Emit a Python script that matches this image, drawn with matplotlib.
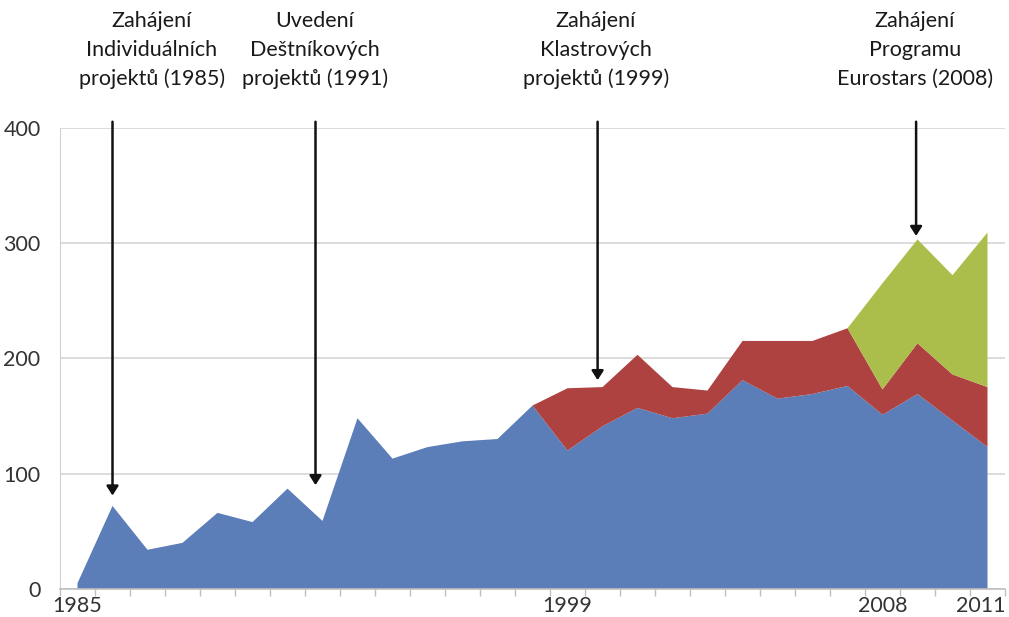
import matplotlib
matplotlib.use("Agg")
import matplotlib.pyplot as plt
import matplotlib.transforms as mtransforms
import numpy as np

years = list(range(1985, 2012))
individual = [5, 72, 34, 40, 66, 58, 87, 59, 148, 113, 123, 128, 130, 159,
              120, 141, 157, 148, 152, 181, 165, 169, 176, 151, 169, 146, 123]
cluster = [0]*13 + [0, 54, 34, 46, 27, 20, 34, 50, 46, 50, 22, 44, 40, 52]
eurostars = [0]*22 + [0, 92, 90, 86, 134]

tick_labels = {1985: "1985", 1999: "1999", 2008: "2008", 2011: "2011"}

ann_texts = ["Zahájení\nIndividuálních\nprojektů (1985)",
             "Uvedení\nDeštníkových\nprojektů (1991)",
             "Zahájení\nKlastrových\nprojektů (1999)",
             "Zahájení\nProgramu\nEurostars (2008)"]
ann_x = [1986.0, 1991.8, 1999.86, 2008.96]
ann_tip = [81, 90, 181, 306]

colors = ["#5B7DB8", "#AE4240", "#ABBE4B"]

plt.rcParams['font.family'] = ['Lato', 'DejaVu Sans']

fig = plt.figure(figsize=(10.09, 6.17), dpi=100)
ax = fig.add_axes([60/1009, 28/617, 945/1009, 461.5/617])

ax.stackplot(years, individual, cluster, eurostars, colors=colors, linewidth=0)

ax.set_xlim(1984.5, 2011.5)
ax.set_ylim(0, 400)
ax.set_yticks([0, 100, 200, 300, 400])
ax.set_yticklabels(["0", "100", "200", "300", "400"], fontsize=15.5, color="#333333")
ax.yaxis.grid(True, color="#d9d9d9", linewidth=1.3)
ax.set_axisbelow(True)
ax.tick_params(axis='y', length=0, pad=14)

ax.set_xticks(list(tick_labels.keys()))
ax.set_xticklabels(list(tick_labels.values()), fontsize=15.5, color="#333333")
ax.set_xticks(np.arange(1984.5, 2012, 1), minor=True)
ax.tick_params(axis='x', which='major', length=0, pad=5)
ax.tick_params(axis='x', which='minor', length=5, color="#bfbfbf", width=1)

# keep the last label inside the figure
last = ax.get_xticklabels()[-1]
last.set_transform(last.get_transform() +
                   mtransforms.ScaledTranslation(-7/100, 0, fig.dpi_scale_trans))

for s in ["top", "right"]:
    ax.spines[s].set_visible(False)
ax.spines["left"].set_color("#d0d0d0")
ax.spines["bottom"].set_color("#bfbfbf")
ax.spines["bottom"].set_linewidth(1.2)

for x, tip in zip(ann_x, ann_tip):
    ax.annotate("", xy=(x, tip), xytext=(x, 405),
                arrowprops=dict(arrowstyle="-|>,head_length=0.55,head_width=0.35",
                                color="#111111", lw=1.8, shrinkA=0, shrinkB=0),
                annotation_clip=False)

text_cx = [152, 315, 596, 915]
for t, cx in zip(ann_texts, text_cx):
    fig.text(cx/1009, 1 - 50/617, t, ha="center", va="center", fontsize=15.5,
             color="#1a1a1a", linespacing=1.55)

fig.savefig("out.png", dpi=100)
